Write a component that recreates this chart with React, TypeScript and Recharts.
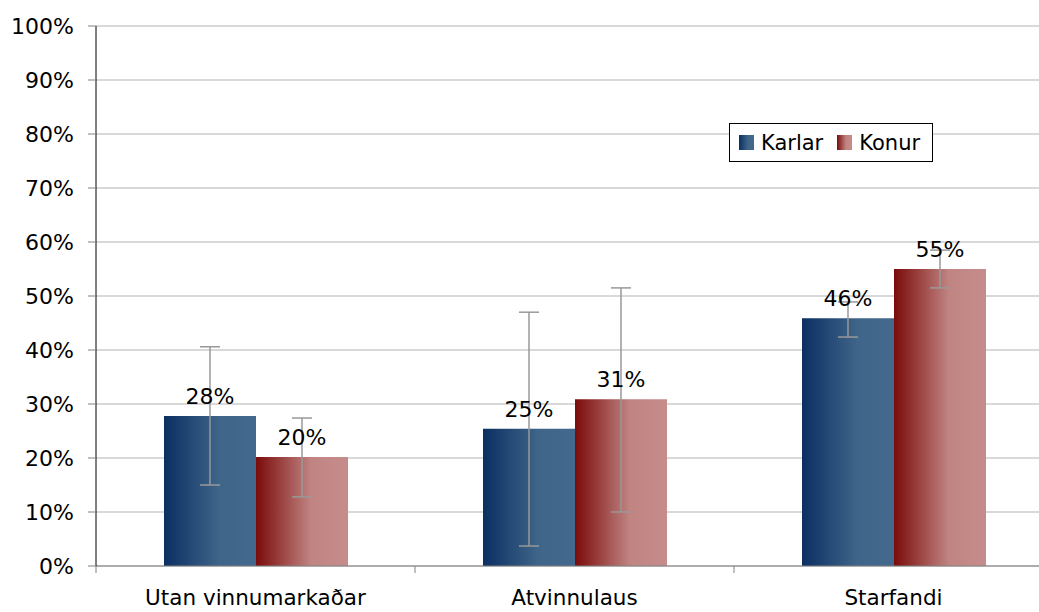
import React from 'react';
import { BarChart, Bar, XAxis, YAxis, CartesianGrid, ErrorBar, LabelList } from 'recharts';

const categories = ['Utan vinnumarkaðar', 'Atvinnulaus', 'Starfandi'];
const karlar = [27.8, 25.4, 45.9];
const konur = [20.2, 30.9, 55.0];
// error bar ends
const karlarLow = [15.0, 3.7, 42.4];
const karlarHigh = [40.6, 47.0, 48.9];
const konurLow = [12.8, 10.0, 51.5];
const konurHigh = [27.4, 51.5, 58.5];
const yTicks = [0, 10, 20, 30, 40, 50, 60, 70, 80, 90, 100];

const data = categories.map((name, i) => ({
  name,
  karlar: karlar[i],
  konur: konur[i],
  karlarErr: [karlar[i] - karlarLow[i], karlarHigh[i] - karlar[i]],
  konurErr: [konur[i] - konurLow[i], konurHigh[i] - konur[i]],
}));

const FONT = '"DejaVu Sans", Verdana, sans-serif';
const CHART_W = 1070;
const CHART_H = 640;
const PLOT_LEFT = 96;
const PLOT_RIGHT = 1053;
const PLOT_TOP = 26;
const PLOT_BOTTOM = 566;
const BAND = (PLOT_RIGHT - PLOT_LEFT) / categories.length;

const XTick = (props: any) => {
  const { x, payload, index } = props;
  return (
    <g>
      {index === 0 && (
        <line x1={x - BAND / 2} x2={x - BAND / 2} y1={PLOT_BOTTOM} y2={PLOT_BOTTOM + 7} stroke="#808080" />
      )}
      <line x1={x + BAND / 2} x2={x + BAND / 2} y1={PLOT_BOTTOM} y2={PLOT_BOTTOM + 7} stroke="#808080" />
      <text x={x} y={590} dy="0.71em" textAnchor="middle" fontSize={21.5} fontFamily={FONT} fill="#000">
        {payload.value}
      </text>
    </g>
  );
};

const swatch = (grad: string) => ({
  display: 'inline-block',
  width: 15,
  height: 15,
  background: grad,
  marginRight: 7,
});

const BLUE_CSS = 'linear-gradient(to right, #0b2f62, #3f6589 60%, #43698e)';
const RED_CSS = 'linear-gradient(to right, #7b0b0b, #c08582 60%, #c68c8c)';

const App = () => {
  return (
    <div style={{ position: 'fixed', left: 0, top: 0, width: 1039, height: 612, overflow: 'hidden', background: '#fff' }}>
      <BarChart
        width={CHART_W}
        height={CHART_H}
        data={data}
        margin={{ top: PLOT_TOP, right: CHART_W - PLOT_RIGHT, left: 0, bottom: CHART_H - PLOT_BOTTOM - 40 }}
        barGap={0}
        barSize={92}
      >
        <defs>
          <linearGradient id="gBlue" x1="0" y1="0" x2="1" y2="0">
            <stop offset="0%" stopColor="#0b2f62" />
            <stop offset="60%" stopColor="#3f6589" />
            <stop offset="100%" stopColor="#43698e" />
          </linearGradient>
          <linearGradient id="gRed" x1="0" y1="0" x2="1" y2="0">
            <stop offset="0%" stopColor="#7b0b0b" />
            <stop offset="60%" stopColor="#c08582" />
            <stop offset="100%" stopColor="#c68c8c" />
          </linearGradient>
        </defs>
        <CartesianGrid vertical={false} stroke="#b3b3b3" />
        <XAxis
          dataKey="name"
          height={40}
          axisLine={{ stroke: '#808080' }}
          tickLine={false}
          tick={<XTick />}
          interval={0}
        />
        <YAxis
          width={PLOT_LEFT}
          domain={[0, 100]}
          ticks={yTicks}
          interval={0}
          tickFormatter={(v: number) => `${v}%`}
          tickSize={8}
          tickMargin={14}
          axisLine={{ stroke: '#000' }}
          tickLine={{ stroke: '#808080' }}
          tick={{ fill: '#000', fontSize: 22, fontFamily: FONT }}
        />
        <Bar dataKey="karlar" fill="url(#gBlue)" isAnimationActive={false}>
          <LabelList
            dataKey="karlar"
            position="top"
            offset={12}
            formatter={(v: any) => `${Math.round(v)}%`}
            style={{ fill: '#000', fontSize: 22, fontFamily: FONT }}
          />
          <ErrorBar dataKey="karlarErr" width={10} stroke="#999" strokeWidth={1.5} direction="y" />
        </Bar>
        <Bar dataKey="konur" fill="url(#gRed)" isAnimationActive={false}>
          <LabelList
            dataKey="konur"
            position="top"
            offset={12}
            formatter={(v: any) => `${Math.round(v)}%`}
            style={{ fill: '#000', fontSize: 22, fontFamily: FONT }}
          />
          <ErrorBar dataKey="konurErr" width={10} stroke="#999" strokeWidth={1.5} direction="y" />
        </Bar>
      </BarChart>
      <div
        style={{
          position: 'absolute',
          left: 729,
          top: 123,
          width: 202,
          height: 37,
          border: '1px solid #000',
          background: '#fff',
          display: 'flex',
          alignItems: 'center',
          boxSizing: 'content-box',
          fontFamily: FONT,
          fontSize: 21,
          color: '#000',
        }}
      >
        <span style={{ ...swatch(BLUE_CSS), marginLeft: 9 }} />
        <span style={{ marginRight: 14 }}>Karlar</span>
        <span style={swatch(RED_CSS)} />
        <span>Konur</span>
      </div>
    </div>
  );
};

export default App;
